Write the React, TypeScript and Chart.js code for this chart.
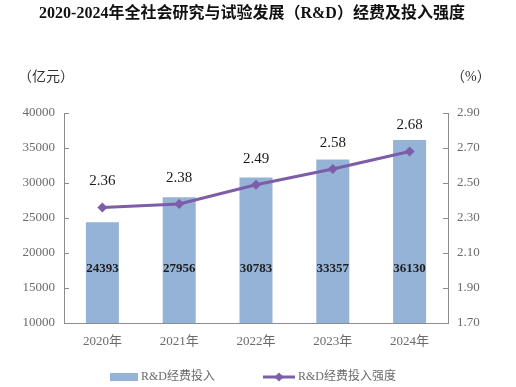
import React, { useEffect, useRef } from "react";
import { Chart, registerables } from "chart.js";

Chart.register(...registerables);

const categories = ["2020年", "2021年", "2022年", "2023年", "2024年"];
const rdSpending = [24393, 27956, 30783, 33357, 36130];
const rdIntensity = [2.36, 2.38, 2.49, 2.58, 2.68];
const leftTicks = [10000, 15000, 20000, 25000, 30000, 35000, 40000];
const rightTicks = [1.7, 1.9, 2.1, 2.3, 2.5, 2.7, 2.9];

const titleText = "2020-2024年全社会研究与试验发展（R&D）经费及投入强度";
const leftUnit = "（亿元）";
const rightUnit = "（%）";
const barLegend = "R&D经费投入";
const lineLegend = "R&D经费投入强度";

const SERIF = '"Liberation Serif", "Noto Sans CJK SC", serif';
const BAR_COLOR = "#95b3d7";
const LINE_COLOR = "#7d5ca8";
const AXIS_COLOR = "#8c8c8c";
const TICK_COLOR = "#6b6b6b";

const decorPlugin = {
  id: "decor",
  afterDraw(chart: any) {
    const ctx = chart.ctx;
    const area = chart.chartArea;
    ctx.save();
    // inward tick marks
    ctx.strokeStyle = AXIS_COLOR;
    ctx.lineWidth = 1;
    const yl = chart.scales.y;
    const yr = chart.scales.y1;
    yl.ticks.forEach((t: any) => {
      const py = Math.round(yl.getPixelForValue(t.value)) + 0.5;
      ctx.beginPath();
      ctx.moveTo(area.left, py);
      ctx.lineTo(area.left + 5, py);
      ctx.stroke();
    });
    yr.ticks.forEach((t: any) => {
      const py = Math.round(yr.getPixelForValue(t.value)) + 0.5;
      ctx.beginPath();
      ctx.moveTo(area.right, py);
      ctx.lineTo(area.right - 5, py);
      ctx.stroke();
    });

    // title
    ctx.fillStyle = "#111";
    ctx.font = `bold 16px ${SERIF}`;
    ctx.textAlign = "center";
    ctx.textBaseline = "middle";
    ctx.fillText(titleText, 252, 14);

    // units
    ctx.fillStyle = "#333";
    ctx.font = `14px ${SERIF}`;
    ctx.textAlign = "left";
    ctx.fillText(leftUnit, 18, 77);
    ctx.fillText(rightUnit, 451, 77);

    // bar value labels
    const barMeta = chart.getDatasetMeta(0);
    ctx.fillStyle = "#1e1e1e";
    ctx.font = `bold 13px ${SERIF}`;
    ctx.textAlign = "center";
    barMeta.data.forEach((el: any, i: number) => {
      const py = yl.getPixelForValue(17800);
      ctx.fillText(String(rdSpending[i]), el.x, py);
    });

    // line value labels
    const lineMeta = chart.getDatasetMeta(1);
    ctx.fillStyle = "#1a1a1a";
    ctx.font = `15px ${SERIF}`;
    lineMeta.data.forEach((el: any, i: number) => {
      ctx.fillText(rdIntensity[i].toFixed(2), el.x, el.y - 26);
    });

    // legend
    const ly = 377;
    ctx.fillStyle = BAR_COLOR;
    ctx.fillRect(110, ly - 4, 28, 8);
    ctx.fillStyle = TICK_COLOR;
    ctx.font = `12px ${SERIF}`;
    ctx.textAlign = "left";
    ctx.fillText(barLegend, 141, ly);

    ctx.strokeStyle = LINE_COLOR;
    ctx.lineWidth = 3;
    ctx.beginPath();
    ctx.moveTo(263, ly);
    ctx.lineTo(295, ly);
    ctx.stroke();
    ctx.fillStyle = LINE_COLOR;
    ctx.beginPath();
    ctx.moveTo(279, ly - 4.5);
    ctx.lineTo(283.5, ly);
    ctx.lineTo(279, ly + 4.5);
    ctx.lineTo(274.5, ly);
    ctx.closePath();
    ctx.fill();
    ctx.fillStyle = TICK_COLOR;
    ctx.fillText(lineLegend, 298, ly);

    ctx.restore();
  },
};

export default function App() {
  const ref = useRef<HTMLCanvasElement | null>(null);

  useEffect(() => {
    document.body.style.margin = "0";
    const canvas = ref.current;
    if (!canvas) return;
    const chart = new Chart(canvas, {
      type: "bar",
      data: {
        labels: categories,
        datasets: [
          {
            type: "bar",
            label: barLegend,
            data: rdSpending,
            backgroundColor: BAR_COLOR,
            yAxisID: "y",
            order: 2,
            categoryPercentage: 1,
            barPercentage: 0.43,
          },
          {
            type: "line",
            label: lineLegend,
            data: rdIntensity,
            borderColor: LINE_COLOR,
            backgroundColor: LINE_COLOR,
            borderWidth: 3,
            pointStyle: "rectRot",
            pointRadius: 5,
            pointBorderWidth: 0,
            yAxisID: "y1",
            order: 1,
            tension: 0,
          },
        ],
      },
      options: {
        responsive: false,
        animation: false,
        layout: { padding: { top: 113, left: 0, right: 0, bottom: 0 } },
        plugins: {
          legend: { display: false },
          tooltip: { enabled: false },
          title: { display: false },
        },
        scales: {
          x: {
            grid: { display: true, drawOnChartArea: false, drawTicks: false },
            border: { display: true, color: AXIS_COLOR, width: 1 },
            ticks: {
              color: TICK_COLOR,
              font: { family: SERIF, size: 13 },
              padding: 11,
            },
            afterFit: (s: any) => {
              s.height = 64;
            },
          },
          y: {
            position: "left",
            min: 10000,
            max: 40000,
            afterBuildTicks: (s: any) => {
              s.ticks = leftTicks.map((v) => ({ value: v }));
            },
            grid: { display: true, drawOnChartArea: false, drawTicks: false },
            border: { display: true, color: AXIS_COLOR, width: 1 },
            ticks: {
              color: TICK_COLOR,
              font: { family: SERIF, size: 13 },
              padding: 9,
              callback: (v: any) => String(v),
            },
            afterFit: (s: any) => {
              s.width = 64;
            },
          },
          y1: {
            position: "right",
            min: 1.7,
            max: 2.9,
            afterBuildTicks: (s: any) => {
              s.ticks = rightTicks.map((v) => ({ value: v }));
            },
            grid: { display: true, drawOnChartArea: false, drawTicks: false },
            border: { display: true, color: AXIS_COLOR, width: 1 },
            ticks: {
              color: TICK_COLOR,
              font: { family: SERIF, size: 13 },
              padding: 9,
              callback: (v: any) => Number(v).toFixed(2),
            },
            afterFit: (s: any) => {
              s.width = 68;
            },
          },
        },
      },
      plugins: [decorPlugin],
    });
    return () => chart.destroy();
  }, []);

  return <canvas ref={ref} width={516} height={387} style={{ display: "block" }} />;
}
